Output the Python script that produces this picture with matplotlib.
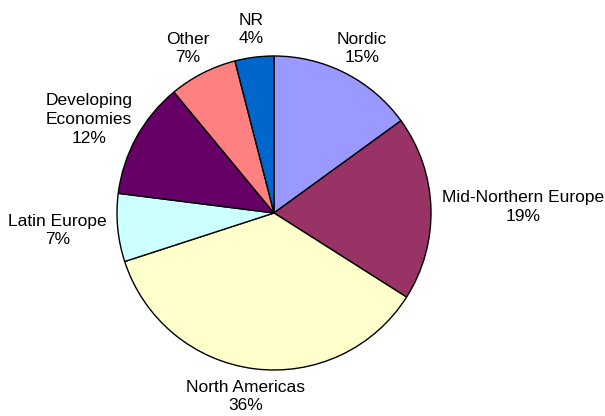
import numpy as np
import matplotlib.pyplot as plt

plt.rcParams['font.family'] = ['Liberation Sans', 'DejaVu Sans']

# Data (clockwise from 12 o'clock)
regions = ["Nordic", "Mid-Northern Europe", "North Americas", "Latin Europe",
           "Developing\nEconomies", "Other", "NR"]
shares = [15, 19, 36, 7, 12, 7, 4]
colors = ["#9999FF", "#993366", "#FFFFCC", "#CCFFFF", "#660066", "#FF8080", "#0066CC"]

fig = plt.figure(figsize=(6.05, 4.16), dpi=100)
# pie centre at ~(274, 213) px, radius ~157 px
r_px = 157
cx, cy = 274, 213
ax = fig.add_axes([(cx - r_px) / 605, (416 - cy - r_px) / 416, 2 * r_px / 605, 2 * r_px / 416])

wedges, _ = ax.pie(shares, colors=colors, startangle=90, counterclock=False,
                   wedgeprops=dict(edgecolor="black", linewidth=1.0))
ax.set_xlim(-1, 1)
ax.set_ylim(-1, 1)
ax.set_aspect("equal")
ax.axis("off")

# Excel-style labels: box sits just outside the wedge midpoint
texts = []
for w, name, val in zip(wedges, regions, shares):
    ang = np.radians((w.theta1 + w.theta2) / 2)
    t = ax.text(0, 0, f"{name}\n{val}%", ha="center", va="center",
                fontsize=12.5, linespacing=1.3, multialignment="center")
    texts.append((t, np.cos(ang), np.sin(ang)))

fig.canvas.draw()
renderer = fig.canvas.get_renderer()
inv = ax.transData.inverted()
for t, dx, dy in texts:
    bb = t.get_window_extent(renderer)
    p0 = inv.transform((bb.x0, bb.y0))
    p1 = inv.transform((bb.x1, bb.y1))
    w, h = p1 - p0
    d = 1.07
    t.set_position((d * dx + dx * w / 2, d * dy + dy * h / 2))

fig.savefig("out.png", dpi=100)
